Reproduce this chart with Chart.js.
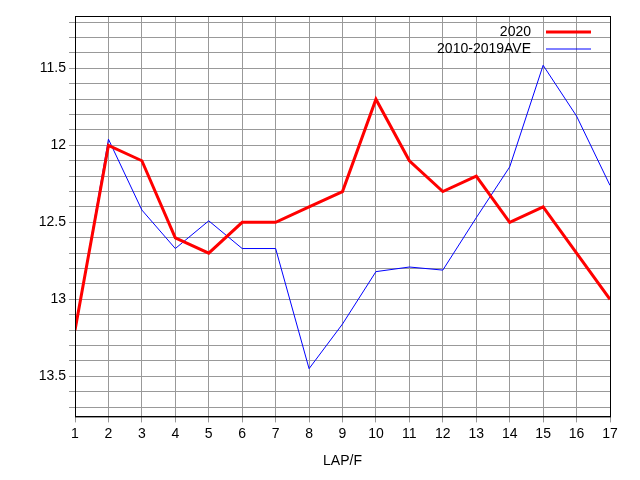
<!DOCTYPE html>
<html><head><script src="https://cdn.jsdelivr.net/npm/chart.js@4"></script>
<style>body{margin:0;background:#fff}</style></head><body>
<canvas id="c" width="640" height="480" style="width:640px;height:480px"></canvas>
<script>
const laps=[1,2,3,4,5,6,7,8,9,10,11,12,13,14,15,16,17];
const s2020=[13.2,12.0,12.1,12.6,12.7,12.5,12.5,12.4,12.3,11.7,12.1,12.3,12.2,12.5,12.4,12.7,13.0];
const sAve=[13.21,11.96,12.42,12.67,12.49,12.67,12.67,13.45,13.16,12.82,12.79,12.81,12.47,12.14,11.48,11.81,12.26];
const yTicks=[11.2,11.3,11.4,11.5,11.6,11.7,11.8,11.9,12,12.1,12.2,12.3,12.4,12.5,12.6,12.7,12.8,12.9,13,13.1,13.2,13.3,13.4,13.5,13.6,13.7];
const legendPlugin={id:'lg',afterDraw(ch){const c=ch.ctx,a=ch.chartArea;c.save();
c.strokeStyle='#000';c.lineWidth=1;c.strokeRect(a.left+0.5,a.top+0.5,a.right-a.left,a.bottom-a.top);
c.font='14px "Liberation Sans", Arial';c.textAlign='right';c.textBaseline='middle';c.fillStyle='#000';
ch.data.datasets.forEach((d,i)=>{const y=a.top+16+i*17;c.fillText(d.label,a.right-79,y);c.strokeStyle=d.borderColor;c.lineWidth=d.borderWidth;c.beginPath();c.moveTo(a.right-64,y);c.lineTo(a.right-19,y);c.stroke();});c.restore();}};
new Chart(document.getElementById('c'),{type:'line',
data:{labels:laps,datasets:[
{label:'2020',data:s2020,borderColor:'#ff0000',borderWidth:3,pointRadius:0,tension:0},
{label:'2010-2019AVE',data:sAve,borderColor:'#0000ff',borderWidth:1,pointRadius:0,tension:0}]},
options:{responsive:false,animation:false,maintainAspectRatio:false,devicePixelRatio:1,
layout:{padding:{left:0,right:30,top:16,bottom:6}},
plugins:{legend:{display:false},tooltip:{enabled:false}},
scales:{
x:{type:'linear',min:1,max:17,offset:false,afterBuildTicks:s=>{s.ticks=laps.map(v=>({value:v}))},
 grid:{color:'#999',borderDash:[2,2],drawTicks:true,tickLength:6},border:{color:'#000',display:true},
 ticks:{color:'#000',font:{size:14,family:'Liberation Sans'},maxRotation:0,autoSkip:false},
 title:{display:true,text:'LAP/F',color:'#000',font:{size:14,family:'Liberation Sans'},padding:{top:8}}},
y:{reverse:true,min:11.16,max:13.76,afterBuildTicks:s=>{s.ticks=yTicks.map(v=>({value:v}))},
 afterFit:s=>{s.width=75},
 grid:{color:'#999',borderDash:[2,2],tickLength:6},border:{color:'#000'},
 ticks:{color:'#000',font:{size:14,family:'Liberation Sans'},autoSkip:false,
  callback:v=>{const r=Math.round(v*10);return r%5===0?String(r/10):''}}}}},
plugins:[legendPlugin]});
</script></body></html>
